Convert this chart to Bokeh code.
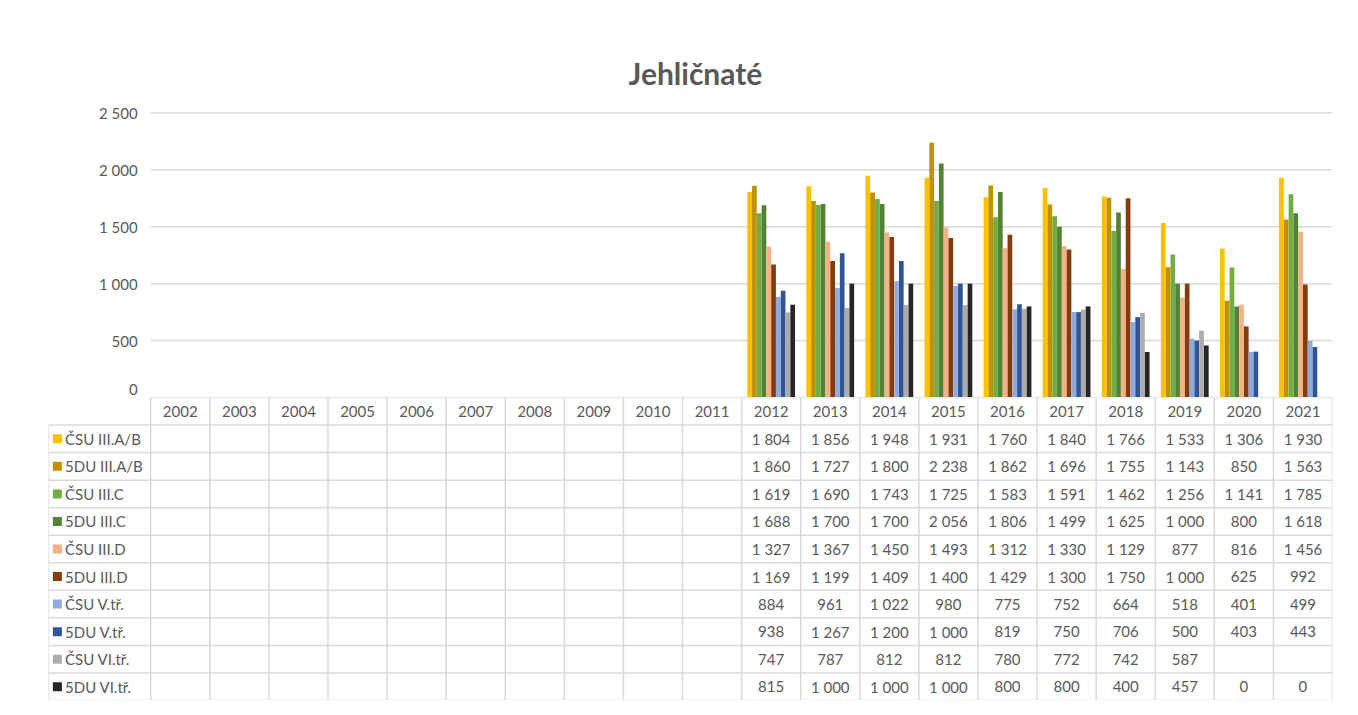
from bokeh.plotting import figure
from bokeh.layouts import column
from bokeh.models import ColumnDataSource, Range1d, FixedTicker
from bokeh.core.properties import value
from bokeh.embed import file_html
from bokeh.resources import INLINE

# ---------------- data ----------------
years = ["2002", "2003", "2004", "2005", "2006", "2007", "2008", "2009", "2010",
         "2011", "2012", "2013", "2014", "2015", "2016", "2017", "2018", "2019",
         "2020", "2021"]
data_years = ["2012", "2013", "2014", "2015", "2016", "2017", "2018", "2019", "2020", "2021"]

series_names = ["ČSU III.A/B", "5DU III.A/B", "ČSU III.C", "5DU III.C", "ČSU III.D",
                "5DU III.D", "ČSU V.tř.", "5DU V.tř.", "ČSU VI.tř.", "5DU VI.tř."]

csu_3ab = [1804, 1856, 1948, 1931, 1760, 1840, 1766, 1533, 1306, 1930]
sdu_3ab = [1860, 1727, 1800, 2238, 1862, 1696, 1755, 1143, 850, 1563]
csu_3c = [1619, 1690, 1743, 1725, 1583, 1591, 1462, 1256, 1141, 1785]
sdu_3c = [1688, 1700, 1700, 2056, 1806, 1499, 1625, 1000, 800, 1618]
csu_3d = [1327, 1367, 1450, 1493, 1312, 1330, 1129, 877, 816, 1456]
sdu_3d = [1169, 1199, 1409, 1400, 1429, 1300, 1750, 1000, 625, 992]
csu_5 = [884, 961, 1022, 980, 775, 752, 664, 518, 401, 499]
sdu_5 = [938, 1267, 1200, 1000, 819, 750, 706, 500, 403, 443]
csu_6 = [747, 787, 812, 812, 780, 772, 742, 587, None, None]
sdu_6 = [815, 1000, 1000, 1000, 800, 800, 400, 457, 0, 0]

series_values = [csu_3ab, sdu_3ab, csu_3c, sdu_3c, csu_3d, sdu_3d, csu_5, sdu_5, csu_6, sdu_6]

y_ticks = [0, 500, 1000, 1500, 2000, 2500]
y_tick_labels = ["0", "500", "1 000", "1 500", "2 000", "2 500"]

# ---------------- style ----------------
colors = ["#FFC000", "#BF9000", "#70AD47", "#548235", "#F4B183",
          "#843C0C", "#8FAADC", "#2F5597", "#AEABAB", "#262626"]
FONT = "Lato"
TXT = "#595959"
GRID = "#D9D9D9"
W = 1340
N = len(years)
LEG_W = 1.73          # legend column width, in category units
BAR_W = 0.081
BL, BR = 48, 8        # frame borders


def fmt(v):
    if v is None:
        return ""
    return f"{v:,}".replace(",", " ")


# ---------------- chart ----------------
p = figure(width=W, height=397, output_backend="svg", toolbar_location=None, tools="",
           x_range=Range1d(-LEG_W, N), y_range=Range1d(0, 2600),
           min_border_left=BL, min_border_right=BR, min_border_top=101, min_border_bottom=0,
           x_axis_location=None)
p.outline_line_color = None
p.grid.visible = False
p.yaxis.fixed_location = 0
p.yaxis.ticker = FixedTicker(ticks=y_ticks)
p.yaxis.major_label_overrides = {t: l for t, l in zip(y_ticks, y_tick_labels)}
p.yaxis.axis_line_color = None
p.yaxis.major_tick_line_color = None
p.yaxis.minor_tick_line_color = None
p.yaxis.major_label_text_font = FONT
p.yaxis.major_label_text_font_size = "15px"
p.yaxis.major_label_text_color = TXT
p.yaxis.major_label_standoff = 7

# horizontal gridlines over the plot area only
p.segment(x0=[0] * len(y_ticks), x1=[N] * len(y_ticks), y0=y_ticks, y1=y_ticks,
          line_color=GRID, line_width=1.5)

p.title.text = "Jehličnaté"
p.title.align = "left"
p.title.offset = 580
p.title.text_font = FONT
p.title.text_font_size = "30px"
p.title.text_font_style = "bold"
p.title.text_color = TXT
p.title.standoff = 22

for j, (name, vals) in enumerate(zip(series_names, series_values)):
    xs, tops = [], []
    for yr, v in zip(data_years, vals):
        if v is None:
            continue
        xs.append(years.index(yr) + 0.5 + (j - 4.5) * BAR_W)
        tops.append(v)
    src = ColumnDataSource(dict(x=xs, top=tops))
    p.vbar(x="x", top="top", bottom=0, width=BAR_W * 0.98, source=src,
           fill_color=colors[j], line_color=None)

# ---------------- data table ----------------
t = figure(width=W, height=303, output_backend="svg", toolbar_location=None, tools="",
           x_range=Range1d(-LEG_W, N), y_range=Range1d(11, 0),
           min_border_left=BL, min_border_right=BR,
           min_border_top=0, min_border_bottom=0,
           x_axis_location=None, y_axis_location=None)
t.outline_line_color = None
t.grid.visible = False

# grid lines
hx0, hx1, hy = [0], [N], [0]
for r in range(1, 12):
    hx0.append(-LEG_W); hx1.append(N); hy.append(r)
t.segment(x0=hx0, x1=hx1, y0=hy, y1=hy, line_color=GRID, line_width=1.5)
vx, vy0, vy1 = [-LEG_W], [1], [11]
for c in range(0, N + 1):
    vx.append(c); vy0.append(0); vy1.append(11)
t.segment(x0=vx, x1=vx, y0=vy0, y1=vy1, line_color=GRID, line_width=1.5)

# header years
t.text(x=[i + 0.5 for i in range(N)], y=[0.5] * N, text=years,
       text_align="center", text_baseline="middle", text_font=value(FONT),
       text_font_size="15px", text_color=TXT)

# legend column
rows = [r + 1.5 for r in range(len(series_names))]
t.scatter(x=[-LEG_W + 0.15] * len(rows), y=rows, marker="square", size=9,
          fill_color=colors, line_color=None)
t.text(x=[-LEG_W + 0.28] * len(rows), y=rows, text=series_names,
       text_align="left", text_baseline="middle", text_font=value(FONT),
       text_font_size="15px", text_color=TXT)

# values
cx, cy, ct = [], [], []
for j, vals in enumerate(series_values):
    for yr, v in zip(data_years, vals):
        cx.append(years.index(yr) + 0.5)
        cy.append(j + 1.5)
        ct.append(fmt(v))
t.text(x=cx, y=cy, text=ct, text_align="center", text_baseline="middle",
       text_font=value(FONT), text_font_size="15px", text_color=TXT)

layout = column(p, t, spacing=0)
open("out.html", "w").write(file_html(layout, INLINE))
